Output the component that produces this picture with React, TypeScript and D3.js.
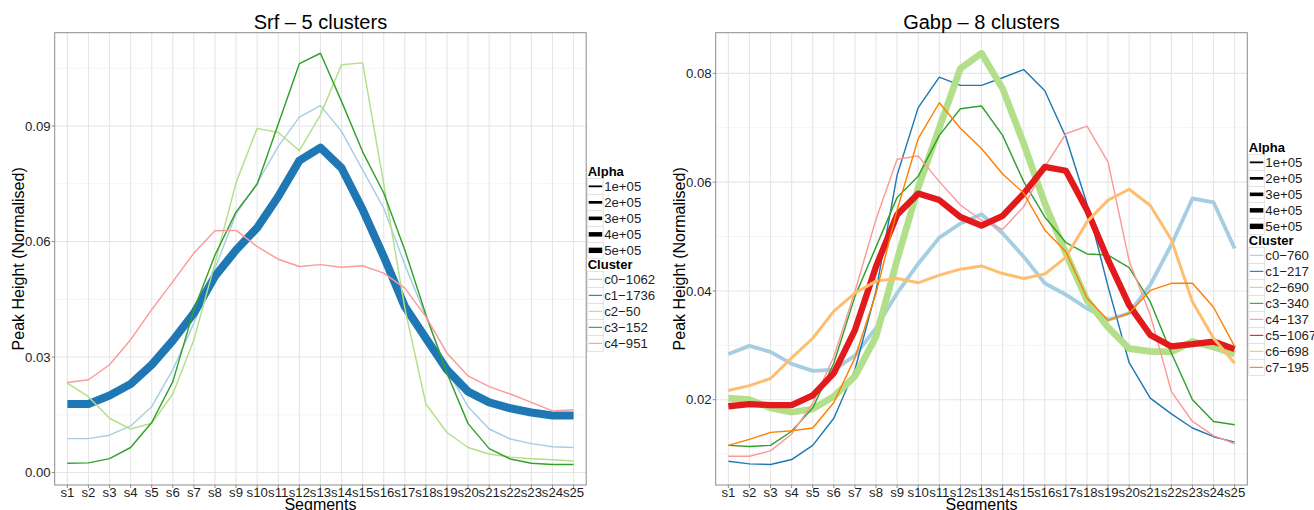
import React from 'react'
import * as d3 from 'd3'

const segments = d3.range(1, 26).map(i => `s${i}`)
const palette = d3.schemePaired

// Srf panel
const srfClusters = ['c0−1062', 'c1−1736', 'c2−50', 'c3−152', 'c4−951']
const srfAlpha = [60000, 800000, 60000, 60000, 60000]
const srfC0 = [0.0088, 0.0088, 0.0097, 0.0121, 0.0171, 0.0267, 0.0388, 0.0530, 0.0672, 0.0752, 0.0847, 0.0923, 0.0953, 0.0886, 0.0786, 0.0687, 0.0540, 0.0405, 0.0267, 0.0171, 0.0113, 0.0087, 0.0075, 0.0067, 0.0065]
const srfC1 = [0.0178, 0.0178, 0.0200, 0.0230, 0.0280, 0.0343, 0.0414, 0.0510, 0.0578, 0.0636, 0.0717, 0.0810, 0.0844, 0.0791, 0.0683, 0.0561, 0.0431, 0.0349, 0.0267, 0.0210, 0.0182, 0.0167, 0.0156, 0.0148, 0.0148]
const srfC2 = [0.0232, 0.0197, 0.0141, 0.0113, 0.0128, 0.0204, 0.0345, 0.0544, 0.0753, 0.0894, 0.0883, 0.0836, 0.0929, 0.1059, 0.1064, 0.0750, 0.0427, 0.0178, 0.0104, 0.0065, 0.0048, 0.0040, 0.0036, 0.0033, 0.0030]
const srfC3 = [0.0024, 0.0025, 0.0036, 0.0065, 0.0130, 0.0236, 0.0423, 0.0565, 0.0677, 0.0749, 0.0905, 0.1062, 0.1089, 0.0964, 0.0833, 0.0726, 0.0578, 0.0410, 0.0258, 0.0127, 0.0062, 0.0035, 0.0024, 0.0021, 0.0021]
const srfC4 = [0.0234, 0.0241, 0.0280, 0.0345, 0.0423, 0.0496, 0.0570, 0.0628, 0.0629, 0.0587, 0.0554, 0.0535, 0.0540, 0.0533, 0.0537, 0.0518, 0.0479, 0.0405, 0.0310, 0.0251, 0.0223, 0.0204, 0.0182, 0.0160, 0.0163]

// Gabp panel
const gabpClusters = ['c0−760', 'c1−217', 'c2−690', 'c3−340', 'c4−137', 'c5−1067', 'c6−698', 'c7−195']
const gabpAlpha = [330000, 60000, 650000, 60000, 60000, 600000, 230000, 60000]
const gabpC0 = [0.0284, 0.0299, 0.0288, 0.0266, 0.0253, 0.0255, 0.0281, 0.0332, 0.0396, 0.0450, 0.0498, 0.0524, 0.0541, 0.0506, 0.0463, 0.0414, 0.0393, 0.0368, 0.0347, 0.0359, 0.0411, 0.0485, 0.0570, 0.0563, 0.0478]
const gabpC1 = [0.0087, 0.0082, 0.0081, 0.0090, 0.0116, 0.0166, 0.0255, 0.0400, 0.0613, 0.0737, 0.0793, 0.0778, 0.0778, 0.0792, 0.0807, 0.0768, 0.0683, 0.0560, 0.0408, 0.0268, 0.0203, 0.0174, 0.0148, 0.0132, 0.0122]
const gabpC2 = [0.0203, 0.0200, 0.0185, 0.0177, 0.0183, 0.0206, 0.0243, 0.0316, 0.0457, 0.0590, 0.0700, 0.0809, 0.0837, 0.0772, 0.0671, 0.0561, 0.0469, 0.0383, 0.0333, 0.0294, 0.0289, 0.0288, 0.0307, 0.0297, 0.0284]
const gabpC3 = [0.0116, 0.0114, 0.0116, 0.0142, 0.0185, 0.0267, 0.0390, 0.0481, 0.0572, 0.0611, 0.0686, 0.0735, 0.0740, 0.0686, 0.0601, 0.0536, 0.0489, 0.0468, 0.0466, 0.0443, 0.0380, 0.0286, 0.0200, 0.0160, 0.0154]
const gabpC4 = [0.0096, 0.0096, 0.0106, 0.0137, 0.0194, 0.0279, 0.0399, 0.0532, 0.0642, 0.0648, 0.0601, 0.0558, 0.0530, 0.0513, 0.0555, 0.0628, 0.0689, 0.0703, 0.0637, 0.0455, 0.0356, 0.0215, 0.0160, 0.0134, 0.0119]
const gabpC5 = [0.0188, 0.0192, 0.0190, 0.0190, 0.0208, 0.0249, 0.0328, 0.0445, 0.0540, 0.0579, 0.0567, 0.0536, 0.0520, 0.0538, 0.0579, 0.0628, 0.0621, 0.0549, 0.0457, 0.0374, 0.0319, 0.0298, 0.0302, 0.0307, 0.0293]
const gabpC6 = [0.0217, 0.0226, 0.0239, 0.0277, 0.0313, 0.0363, 0.0396, 0.0418, 0.0423, 0.0415, 0.0429, 0.0440, 0.0446, 0.0432, 0.0423, 0.0431, 0.0462, 0.0527, 0.0567, 0.0587, 0.0557, 0.0494, 0.0380, 0.0313, 0.0267]
const gabpC7 = [0.0116, 0.0127, 0.0140, 0.0143, 0.0148, 0.0195, 0.0277, 0.0396, 0.0549, 0.0680, 0.0746, 0.0699, 0.0662, 0.0615, 0.0580, 0.0512, 0.0472, 0.0387, 0.0346, 0.0359, 0.0401, 0.0414, 0.0414, 0.0370, 0.0298]

const alphaBreaks = [100000, 200000, 300000, 400000, 500000]

const FONT = "'Liberation Sans', Arial, Helvetica, sans-serif"
const TOP = 32.7
const BOTTOM = 485
const INK = '#1e1e1e'

// line width for the Alpha value
const size = d3.scaleLinear().domain([0, 500000]).range([0.9, 5.4])

type PanelProps = {
  title: string
  left: number
  right: number
  series: number[][]
  clusters: string[]
  alpha: number[]
  yTicks: number[]
}

const Panel = ({ title, left, right, series, clusters, alpha, yTicks }: PanelProps) => {
  const x = d3.scalePoint().domain(segments).range([left, right]).padding(0.6)
  const [lo, hi] = d3.extent(series.flat()) as [number, number]
  const pad = (hi - lo) * 0.05
  const y = d3.scaleLinear().domain([lo - pad, hi + pad]).range([BOTTOM, TOP])
  const step = yTicks[1] - yTicks[0]
  const minor = d3.range(yTicks[0] - step / 2, hi + pad, step).filter(v => v > lo - pad)
  const line = d3.line<number>()
    .x((_, i) => x(segments[i]) as number)
    .y(d => y(d))
  const cx = (left + right) / 2
  const cy = (TOP + BOTTOM) / 2

  // legend layout, vertically centred on the panel
  const row = 16
  const titleH = 13
  const legendH = titleH * 2 + row * (alphaBreaks.length + clusters.length)
  const ly0 = cy - legendH / 2 - 0.5
  const lx = right + 1.5
  const keyW = 15.5
  const alphaRows = alphaBreaks.map((a, i) => ({ a, y: ly0 + titleH + i * row }))
  const clusterTop = ly0 + titleH + alphaBreaks.length * row
  const clusterRows = clusters.map((c, i) => ({ c, i, y: clusterTop + titleH + i * row }))

  return (
    <g fontFamily={FONT}>
      <rect x={left} y={TOP} width={right - left} height={BOTTOM - TOP} fill="#fff" />
      {minor.map(v => (
        <line key={'m' + v} x1={left} x2={right} y1={y(v)} y2={y(v)} stroke="#f4f4f4" strokeWidth={1} />
      ))}
      {yTicks.map(v => (
        <line key={'g' + v} x1={left} x2={right} y1={y(v)} y2={y(v)} stroke="#e6e6e6" strokeWidth={1.1} />
      ))}
      {segments.map(s => (
        <line key={'v' + s} x1={x(s)} x2={x(s)} y1={TOP} y2={BOTTOM} stroke="#e6e6e6" strokeWidth={1.1} />
      ))}
      {series.map((vals, i) => (
        <path key={i} d={line(vals) as string} fill="none" stroke={palette[i]}
          strokeWidth={size(alpha[i])} strokeLinejoin="round" />
      ))}
      <rect x={left} y={TOP} width={right - left} height={BOTTOM - TOP} fill="none" stroke="#8c8c8c" strokeWidth={1} />
      {yTicks.map(v => (
        <g key={'t' + v}>
          <line x1={left - 3} x2={left} y1={y(v)} y2={y(v)} stroke="#8c8c8c" />
          <text x={left - 4} y={y(v)} dy="0.35em" textAnchor="end" fontSize={13.2} fill={INK}>{d3.format('.2f')(v)}</text>
        </g>
      ))}
      {segments.map(s => (
        <g key={'x' + s}>
          <line x1={x(s)} x2={x(s)} y1={BOTTOM} y2={BOTTOM + 3} stroke="#8c8c8c" />
          <text x={x(s)} y={496.5} textAnchor="middle" fontSize={13.2} fill={INK}>{s}</text>
        </g>
      ))}
      <text x={cx} y={28.5} textAnchor="middle" fontSize={20} fill="#000">{title}</text>
      <text x={cx} y={509.5} textAnchor="middle" fontSize={16} fill="#000">Segments</text>
      <text transform={`translate(${left - 31},${cy}) rotate(-90)`} textAnchor="middle" fontSize={16} fill="#000">Peak Height (Normalised)</text>

      <text x={lx} y={ly0 + 11} fontSize={13} fontWeight="bold">Alpha</text>
      {alphaRows.map(r => (
        <g key={'a' + r.a}>
          <rect x={lx} y={r.y} width={keyW} height={row} fill="#fff" stroke="#dcdcdc" strokeWidth={0.8} />
          <line x1={lx + 1} x2={lx + keyW - 1} y1={r.y + row / 2} y2={r.y + row / 2} stroke="#000" strokeWidth={size(r.a)} />
          <text x={lx + keyW + 1} y={r.y + row / 2} dy="0.36em" fontSize={13.2} fill={INK}>{d3.format('.0e')(r.a).replace('e+5', 'e+05')}</text>
        </g>
      ))}
      <text x={lx} y={clusterTop + 11} fontSize={13} fontWeight="bold">Cluster</text>
      {clusterRows.map(r => (
        <g key={'c' + r.c}>
          <rect x={lx} y={r.y} width={keyW} height={row} fill="#fff" stroke="#dcdcdc" strokeWidth={0.8} />
          <line x1={lx + 1} x2={lx + keyW - 1} y1={r.y + row / 2} y2={r.y + row / 2} stroke={palette[r.i]} strokeWidth={1.1} />
          <text x={lx + keyW + 1} y={r.y + row / 2} dy="0.36em" fontSize={13.2} fill={INK}>{r.c}</text>
        </g>
      ))}
    </g>
  )
}

export default function App() {
  return (
    <svg width={1314} height={510} style={{ position: 'absolute', left: 0, top: 0, background: '#fff' }}>
      <rect width={1314} height={510} fill="#fff" />
      <Panel title="Srf – 5 clusters" left={54.7} right={586.2}
        series={[srfC0, srfC1, srfC2, srfC3, srfC4]} clusters={srfClusters} alpha={srfAlpha}
        yTicks={[0, 0.03, 0.06, 0.09]} />
      <Panel title="Gabp – 8 clusters" left={715.7} right={1247.3}
        series={[gabpC0, gabpC1, gabpC2, gabpC3, gabpC4, gabpC5, gabpC6, gabpC7]} clusters={gabpClusters} alpha={gabpAlpha}
        yTicks={[0.02, 0.04, 0.06, 0.08]} />
    </svg>
  )
}
